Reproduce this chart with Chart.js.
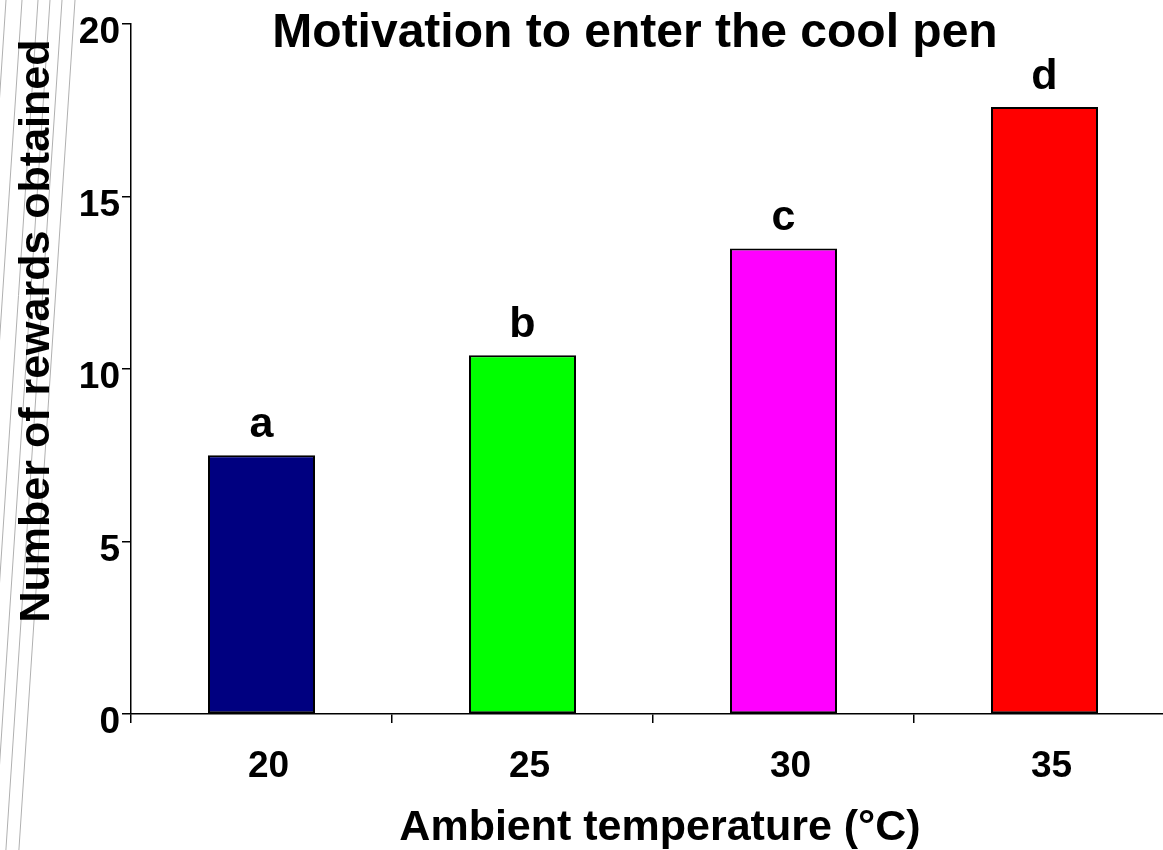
<!DOCTYPE html>
<html>
<head>
<meta charset="utf-8">
<script src="https://cdn.jsdelivr.net/npm/chart.js@4.4.1/dist/chart.umd.min.js"></script>
<style>
  html, body { margin: 0; padding: 0; background: #fff; overflow: hidden; }
  #wrap { position: relative; width: 1175px; height: 850px; }
</style>
</head>
<body>
<div id="wrap"><canvas id="c"></canvas></div>
<script>
const categories = ['20', '25', '30', '35'];
const rewards = [7.5, 10.4, 13.5, 17.6];
const barColors = ['#000080', '#00ff00', '#ff00ff', '#ff0000'];
const sigLetters = ['a', 'b', 'c', 'd'];
const yTicks = [0, 5, 10, 15, 20];
const chartTitle = 'Motivation to enter the cool pen';
const xTitle = 'Ambient temperature (°C)';
const yTitle = 'Number of rewards obtained';

const FONT = "'Liberation Sans', Arial, Helvetica, sans-serif";

const decoPlugin = {
  id: 'deco',
  beforeDraw(chart) {
    const ctx = chart.ctx;
    ctx.save();
    ctx.strokeStyle = '#b0b0b0';
    ctx.lineWidth = 1;
    const tops = [6, 22, 38, 50, 62, 75];
    tops.forEach(t => {
      ctx.beginPath();
      ctx.moveTo(t, 0);
      ctx.lineTo(t - 0.066 * 850, 850);
      ctx.stroke();
    });
    ctx.restore();
  }
};

const textPlugin = {
  id: 'texts',
  afterDraw(chart) {
    const ctx = chart.ctx;
    ctx.save();
    ctx.fillStyle = '#000';
    // title
    ctx.font = 'bold 48px ' + FONT;
    ctx.textAlign = 'center';
    ctx.textBaseline = 'alphabetic';
    ctx.fillText(chartTitle, 635, 47);
    // x title
    ctx.font = 'bold 43px ' + FONT;
    ctx.fillText(xTitle, 660, 840);
    // y title
    ctx.save();
    ctx.translate(49, 331);
    ctx.rotate(-Math.PI / 2);
    ctx.fillText(yTitle, 0, 0);
    ctx.restore();
    // significance letters
    const meta = chart.getDatasetMeta(0);
    ctx.font = 'bold 43px ' + FONT;
    meta.data.forEach((bar, i) => {
      ctx.fillText(sigLetters[i], bar.x, bar.y - 18);
    });
    ctx.restore();
  }
};

new Chart(document.getElementById('c'), {
  type: 'bar',
  data: {
    labels: categories,
    datasets: [{
      data: rewards,
      backgroundColor: barColors,
      borderColor: '#000',
      borderWidth: 2,
      borderSkipped: false,
      categoryPercentage: 1.0,
      barPercentage: 0.41
    }]
  },
  options: {
    responsive: true,
    maintainAspectRatio: false,
    animation: false,
    layout: { padding: { top: 22, left: 0, right: 0, bottom: 0 } },
    plugins: {
      legend: { display: false },
      title: { display: false },
      tooltip: { enabled: false }
    },
    scales: {
      x: {
        grid: { display: true, drawOnChartArea: false, drawTicks: true, tickLength: 9, color: '#000', lineWidth: 1.5, offset: true },
        border: { display: true, color: '#000', width: 1.5 },
        ticks: { color: '#000', font: { family: FONT, size: 37, weight: 'bold' }, padding: 22, labelOffset: 7, maxRotation: 0 },
        afterFit(scale) { scale.height = 136; }
      },
      y: {
        min: 0,
        max: 20,
        afterBuildTicks(scale) { scale.ticks = yTicks.map(v => ({ value: v })); },
        grid: { display: true, drawOnChartArea: false, drawTicks: true, tickLength: 9, color: '#000', lineWidth: 1.5 },
        border: { display: true, color: '#000', width: 1.5 },
        ticks: { color: '#000', font: { family: FONT, size: 37, weight: 'bold' }, padding: 2, labelOffset: 9 },
        afterFit(scale) { scale.width = 131; }
      }
    }
  },
  plugins: [decoPlugin, textPlugin]
});
</script>
</body>
</html>
